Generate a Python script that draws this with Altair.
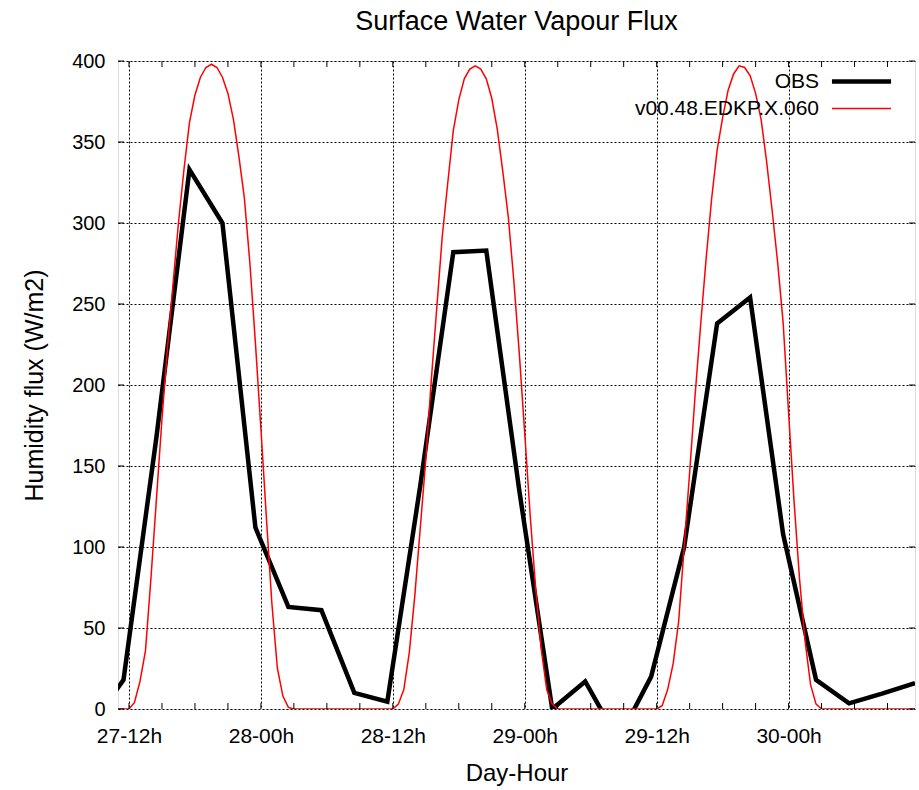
import altair as alt
import pandas as pd

# ---------------- data ----------------
series_names = ["OBS", "v00.48.EDKP.X.060"]
series_colors = ["#000000", "#ff0000"]

# hours relative to 27-12h
obs_hours = [-3.5, -0.5, 2.5, 5.5, 8.5, 11.5, 14.5, 17.5, 20.5, 23.5, 26.5, 29.5,
             32.5, 35.5, 38.5, 41.5, 44.5, 47.5, 50.5, 53.5, 56.5, 59.5, 62.5,
             65.5, 68.5, 71.5]
obs_values = [-11, 18, 168, 333, 300, 112, 63, 61, 10, 4.5, 138, 282,
              283, 135, 0, 17, -19, 20, 100, 238, 254, 108, 18,
              3.5, 9.5, 16]

day_starts = [0, 24, 48]
day_steps = [0, 0.5, 1, 1.5, 2, 2.5, 3, 3.5, 4, 4.5, 5, 5.5, 6, 6.5, 7, 7.5,
             8, 8.5, 9, 9.5, 10, 10.5, 11, 11.5, 12, 12.5, 13, 13.5, 14, 14.5, 15]
model_day1 = [0, 4, 17, 36, 81, 130, 179, 223, 262, 300, 333, 362, 379, 390, 396, 398,
              396, 390, 380, 364, 341, 315, 275, 226, 173, 118, 65, 25, 8, 1, 0]
model_day2 = [0, 3, 12, 35, 70, 112, 154, 203, 248, 292, 325, 357, 376, 389, 395, 397,
              395, 389, 377, 358, 332, 304, 265, 220, 170, 119, 74, 37, 12, 3, 0]
model_day3 = [0, 2, 12, 28, 54, 100, 146, 194, 237, 278, 315, 345, 365, 382, 392, 397,
              396, 391, 380, 364, 338, 308, 276, 239, 183, 128, 80, 42, 15, 3, 0]
model_edges_hours = [-1, 71.5]
model_edges_values = [0, 0]

tick_hours = [0, 12, 24, 36, 48, 60]
tick_labels = ["27-12h", "28-00h", "28-12h", "29-00h", "29-12h", "30-00h"]
minor_tick_hours = [0, 3, 6, 9, 12, 15, 18, 21, 24, 27, 30, 33, 36, 39, 42, 45,
                    48, 51, 54, 57, 60, 63, 66, 69]
y_ticks = [0, 50, 100, 150, 200, 250, 300, 350, 400]

# ---------------- tables ----------------
rows = [{"hour": h, "value": v, "series": series_names[0]} for h, v in zip(obs_hours, obs_values)]
mrows = []
for start, vals in zip(day_starts, [model_day1, model_day2, model_day3]):
    for s, v in zip(day_steps, vals):
        mrows.append({"hour": start + s, "value": v, "series": series_names[1]})
for h, v in zip(model_edges_hours, model_edges_values):
    mrows.append({"hour": h, "value": v, "series": series_names[1]})
mrows.sort(key=lambda r: r["hour"])
df = pd.DataFrame(rows + mrows)

minor_df = pd.DataFrame({"hour": minor_tick_hours})
ytick_df = pd.DataFrame({"value": y_ticks})

W, H = 797, 648
FONT = "Liberation Sans"

label_expr = " : ".join(f"datum.value == {h} ? '{l}'" for h, l in zip(tick_hours, tick_labels)) + " : ''"

x_scale = alt.Scale(domain=[-1, 71.5], nice=False, zero=False)
y_scale = alt.Scale(domain=[0, 400], nice=False, zero=False)

legend = alt.Legend(
    title=None, orient="none", legendX=733, legendY=10,
    symbolType="M-6,0H6", symbolSize=97,
    labelAlign="right", labelOffset={"expr": "-53"}, labelFontSize=21, labelFont=FONT,
    labelColor="black", labelLimit=400, rowPadding=5, padding=0,
)

lines = alt.Chart(df).mark_line(clip=True, strokeCap="butt", strokeJoin="miter").encode(
    x=alt.X("hour:Q", scale=x_scale,
            axis=alt.Axis(values=tick_hours, labelExpr=label_expr, grid=True,
                          gridDash=[2, 2], gridColor="#000000", gridOpacity=1, gridWidth=1,
                          ticks=False, domain=False, labelPadding=16, labelFontSize=21,
                          labelFont=FONT, labelColor="black", labelFlush=False,
                          labelOverlap=False,
                          title="Day-Hour", titleFontSize=24, titleFont=FONT,
                          titleFontWeight="normal", titleColor="black",
                          titleY=71, titleBaseline="alphabetic")),
    y=alt.Y("value:Q", scale=y_scale,
            axis=alt.Axis(values=y_ticks, grid=True, gridDash=[2, 2], gridColor="#000000",
                          gridOpacity=1, gridWidth=1, ticks=False, domain=False,
                          labelPadding=13, labelFontSize=20, labelFont=FONT,
                          labelColor="black", labelFlush=False, labelOverlap=False,
                          title="Humidity flux (W/m2)", titleFontSize=25, titleFont=FONT,
                          titleFontWeight="normal", titleColor="black",
                          titleX=-76, titleY=H / 2, titleBaseline="alphabetic")),
    color=alt.Color("series:N", scale=alt.Scale(domain=series_names, range=series_colors),
                    legend=legend),
    strokeWidth=alt.StrokeWidth("series:N", scale=alt.Scale(domain=series_names, range=[4.5, 1.5]),
                                legend=legend),
)

xt_bottom = alt.Chart(minor_df).mark_rule(color="black", strokeWidth=1).encode(
    x=alt.X("hour:Q", scale=x_scale), y=alt.value(H), y2=alt.value(H - 6))
xt_top = alt.Chart(minor_df).mark_rule(color="black", strokeWidth=1).encode(
    x=alt.X("hour:Q", scale=x_scale), y=alt.value(0), y2=alt.value(6))
yt_left = alt.Chart(ytick_df).mark_rule(color="black", strokeWidth=1).encode(
    y=alt.Y("value:Q", scale=y_scale), x=alt.value(0), x2=alt.value(6))
yt_right = alt.Chart(ytick_df).mark_rule(color="black", strokeWidth=1).encode(
    y=alt.Y("value:Q", scale=y_scale), x=alt.value(W), x2=alt.value(W - 6))

chart = alt.layer(lines, xt_bottom, xt_top, yt_left, yt_right).properties(
    width=W, height=H,
    title=alt.TitleParams("Surface Water Vapour Flux", fontSize=27, font=FONT,
                          fontWeight="normal", anchor="middle", frame="group",
                          offset=15, color="black"),
    autosize=alt.AutoSizeParams(type="none"),
    padding={"left": 118, "top": 61, "right": 4, "bottom": 81},
    background="white",
).configure_view(stroke="black", strokeWidth=1).configure(font=FONT)

chart.save("out.html", embed_options={"renderer": "svg", "actions": False})
